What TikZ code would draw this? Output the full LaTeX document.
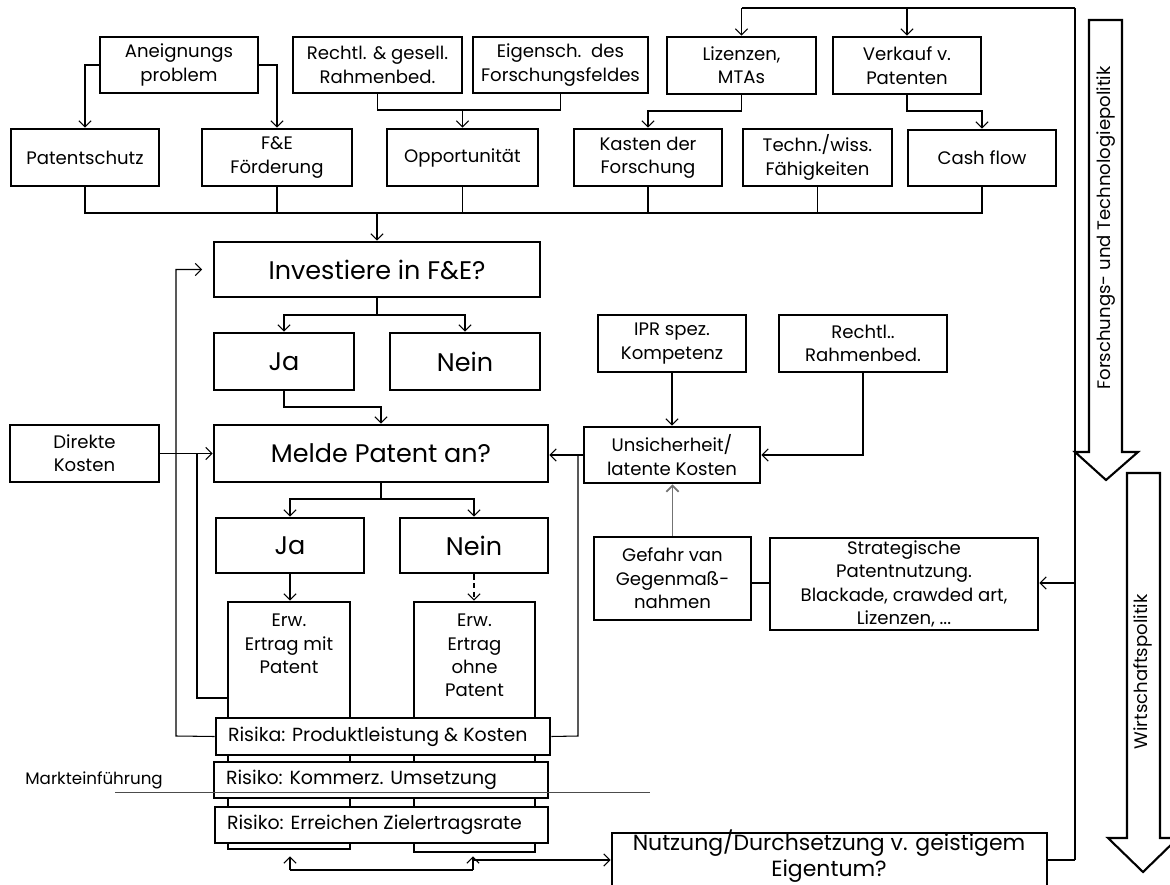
\documentclass[tikz,border=0pt]{standalone}
\usepackage{fontspec}
\setmainfont{Poppins}
\usetikzlibrary{arrows.meta,calc}
\newcommand\ftsmall{\fontsize{10.3}{13.3}\selectfont}
\newcommand\ftbig{\fontsize{14.5}{17}\selectfont}
\newcommand\ftrisk{\fontsize{10.8}{13}\selectfont}
\newcommand\ftnutz{\fontsize{12.5}{14.5}\selectfont}
\newcommand\ftmarkt{\fontsize{9.5}{11}\selectfont}
\newcommand\ftpol{\fontsize{10.3}{12}\selectfont}
% \mkbox[style]{name}{x1}{y1}{x2}{y2}{text}
\newcommand\mkbox[7][box]{\node[#1, minimum width={(#5-#3)*0.02cm}, minimum height={(#6-#4)*0.02cm}] (#2) at ({(#3+#5)/2},{(#4+#6)/2}) {#7};}
\begin{document}
\begin{tikzpicture}[x=0.02cm,y=-0.02cm,
  box/.style={draw, line width=1.5pt, inner sep=0pt, align=center, font=\ftsmall, fill=white},
  bigbox/.style={box, font=\ftbig},
  rbox/.style={draw, line width=1.5pt, inner sep=0pt, fill=white},
  arr/.style={line width=0.6pt, -{Straight Barb[length=3.5pt,width=7pt]}},
  ln/.style={line width=0.6pt},
  bigarrow/.style={draw, line width=1.2pt, fill=white},
  txt/.style={inner sep=0pt, align=center}]
\useasboundingbox (0,0) rectangle (1170,885);

% ---------- top rows ----------
\mkbox{aneig}{100}{37}{258}{93}{Aneignungs\\problem}
\mkbox{rges}{293}{37}{462}{93}{Rechtl. \& gesell.\\Rahmenbed.}
\mkbox{eig}{473}{37}{648}{93}{Eigensch.\ \ des\\Forschungsfeldes}
\mkbox{liz}{667}{37}{816}{94}{Lizenzen,\\MTAs}
\mkbox{verk}{833}{37}{981}{94}{Verkauf v.\\Patenten}

\mkbox{pat}{11}{129}{159}{186}{Patentschutz}
\mkbox{fef}{202}{129}{352}{186}{F\&E\\Förderung}
\mkbox{opp}{387}{129}{538}{186}{Opportunität}
\mkbox{kast}{574}{129}{722}{186}{Kasten der\\Forschung}
\mkbox{tech}{743}{129}{892}{186}{Techn./wiss.\\Fähigkeiten}
\mkbox{cash}{908}{130}{1056}{186}{Cash flow}

\coordinate (tr) at (1075,8);
\coordinate (br) at (1075,860);
\coordinate (strin) at (1075,583);

\draw[arr] (aneig.west) -| (pat.north);
\draw[arr] (aneig.east) -| (fef.north);
\draw[ln] (rges.south) -- (rges.south |- 0,110) -- (eig.south |- 0,110) -- (eig.south);
\draw[arr] (opp.north |- 0,110) -- (opp.north);
\draw[ln] (tr) -- (liz.north |- tr);
\draw[arr] (liz.north |- tr) -- (liz.north);
\draw[arr] (verk.north |- tr) -- (verk.north);
\draw[arr] (liz.south) -- (liz.south |- 0,111) -| (kast.north);
\draw[arr] (verk.south) -- (verk.south |- 0,111) -| (cash.north);

\draw[ln] (pat.south) -- (pat.south |- 0,213) -- (cash.south |- 0,213) -- (cash.south);
\draw[ln] (fef.south) -- (fef.south |- 0,213);
\draw[ln] (opp.south) -- (opp.south |- 0,213);
\draw[ln] (kast.south) -- (kast.south |- 0,213);
\draw[ln] (tech.south) -- (tech.south |- 0,213);

% ---------- decision chain ----------
\mkbox[bigbox]{inv}{214}{242}{540}{297}{Investiere in F\&E?}
\draw[arr] (inv.north |- 0,213) -- (inv.north);
\mkbox[bigbox]{ja1}{214}{333}{354}{390}{Ja}
\mkbox[bigbox]{nein1}{390}{333}{540}{390}{Nein}
\draw[arr] (inv.south) -- (inv.south |- 0,315) -| (ja1.north);
\draw[arr] (inv.south |- 0,315) -| (nein1.north);

\mkbox[bigbox]{melde}{214}{425}{548}{482}{Melde Patent an?}
\draw[arr] (ja1.south) -- (ja1.south |- 0,407) -| (melde.north);
\mkbox{dk}{10}{425}{159}{482}{Direkte\\Kosten}
\draw[arr] (dk.east) -- (melde.west);

\mkbox[bigbox]{ja2}{216}{518}{364}{573}{Ja}
\mkbox[bigbox]{nein2}{400}{518}{548}{573}{Nein}
\draw[arr] (melde.south) -- (melde.south |- 0,499) -| (ja2.north);
\draw[arr] (melde.south |- 0,499) -| (nein2.north);

\mkbox{erw1}{228}{602}{350}{849}{}
\mkbox{erw2}{414}{602}{535}{852}{}
\node[txt, font=\ftsmall, anchor=north] (erw1t) at ($(erw1.north)+(0,13)$) {Erw.\\Ertrag mit\\Patent};
\node[txt, font=\ftsmall, anchor=north] (erw2t) at ($(erw2.north)+(0,13)$) {Erw.\\Ertrag\\ohne\\Patent};
\draw[arr] (ja2.south) -- (ja2.south |- erw1.north);
\draw[arr, densely dashed] (nein2.south) -- (nein2.south |- erw2.north);

\mkbox[rbox]{r1}{216}{718}{550}{755}{}
\mkbox[rbox]{r2}{214}{762}{548}{798}{}
\mkbox[rbox]{r3}{215}{807}{548}{843}{}
\node[txt, font=\ftrisk, anchor=west] (r1t) at ($(r1.west)+(13,0)$) {Risika: Produktleistung \& Kosten};
\node[txt, font=\ftrisk, anchor=west] (r2t) at ($(r2.west)+(13,0)$) {Risiko: Kommerz. Umsetzung};
\node[txt, font=\ftrisk, anchor=west] (r3t) at ($(r3.west)+(13,0)$) {Risiko: Erreichen Zielertragsrate};

% feedback loops
\draw[arr, shorten >=6pt] (r1.west) -- (176,736) |- (inv.west);
\draw[ln] (erw1.west |- 0,698) -- (197,698) -- (197,453);
\draw[ln] (r1.east) -- (578,736) -- (578,455);

% Markteinfuehrung
\node[txt, font=\ftmarkt, anchor=west] (markt) at (25,780) {Markteinführung};
\draw[line width=0.5pt, black!70] (115,792) -- (650,792);

% ---------- right cluster ----------
\mkbox{ipr}{598}{315}{746}{372}{IPR spez.\\Kompetenz}
\mkbox{rr}{779}{315}{947}{372}{Rechtl..\\Rahmenbed.}
\mkbox{uns}{584}{427}{760}{483}{Unsicherheit/\\latente Kosten}
\mkbox{gef}{594}{537}{751}{620}{Gefahr van\\Gegenmaß-\\nahmen}
\mkbox{strat}{770}{538}{1038}{630}{Strategische\\Patentnutzung.\\Blackade, crawded art,\\Lizenzen, ...}

\draw[arr] (uns.west) -- (uns.west -| melde.east);
\draw[arr] (ipr.south) -- (ipr.south |- uns.north);
\draw[arr] (rr.south) |- (uns.east);
\draw[arr, line width=1pt, black!55] (gef.north) -- (gef.north |- uns.south);
\draw[ln] (gef.east |- 0,583) -- (strat.west |- 0,583);

\draw[ln] (tr) -- (br);
\draw[arr] (strin) -- (strat.east |- strin);

% ---------- bottom ----------
\mkbox{nutz}{612}{833}{1047}{895}{}
\node[txt, font=\ftnutz] (nutzt) at (829,856) {Nutzung/Durchsetzung v. geistigem\\Eigentum?};
\draw[ln] (br) -- (nutz.east |- br);
\coordinate (b1) at (290,870);
\coordinate (b2) at (473,870);
\coordinate (b3) at (473,860);
\draw[arr, shorten >=0.12cm] (b1) -- (b1 |- erw1.south);
\draw[ln] (b1) -- (b2);
\draw[arr, shorten >=0.06cm] (b2) -- (b2 |- erw2.south);
\draw[arr] (b3) -- (nutz.west |- b3);

% ---------- policy arrows ----------
\draw[bigarrow] (1089,20) -- (1122,20) -- (1122,452) -- (1138,452) -- (1106,480) -- (1075,452) -- (1089,452) -- cycle;
\node[txt, font=\ftpol, rotate=90] (ftp) at (1106,228) {Forschungs- und Technologiepolitik};
\draw[bigarrow] (1127,473) -- (1160,473) -- (1160,838) -- (1178,838) -- (1143,872) -- (1108,838) -- (1127,838) -- cycle;
\node[txt, font=\ftpol, rotate=90] (wp) at (1143,672) {Wirtschaftspolitik};
\end{tikzpicture}
\end{document}
